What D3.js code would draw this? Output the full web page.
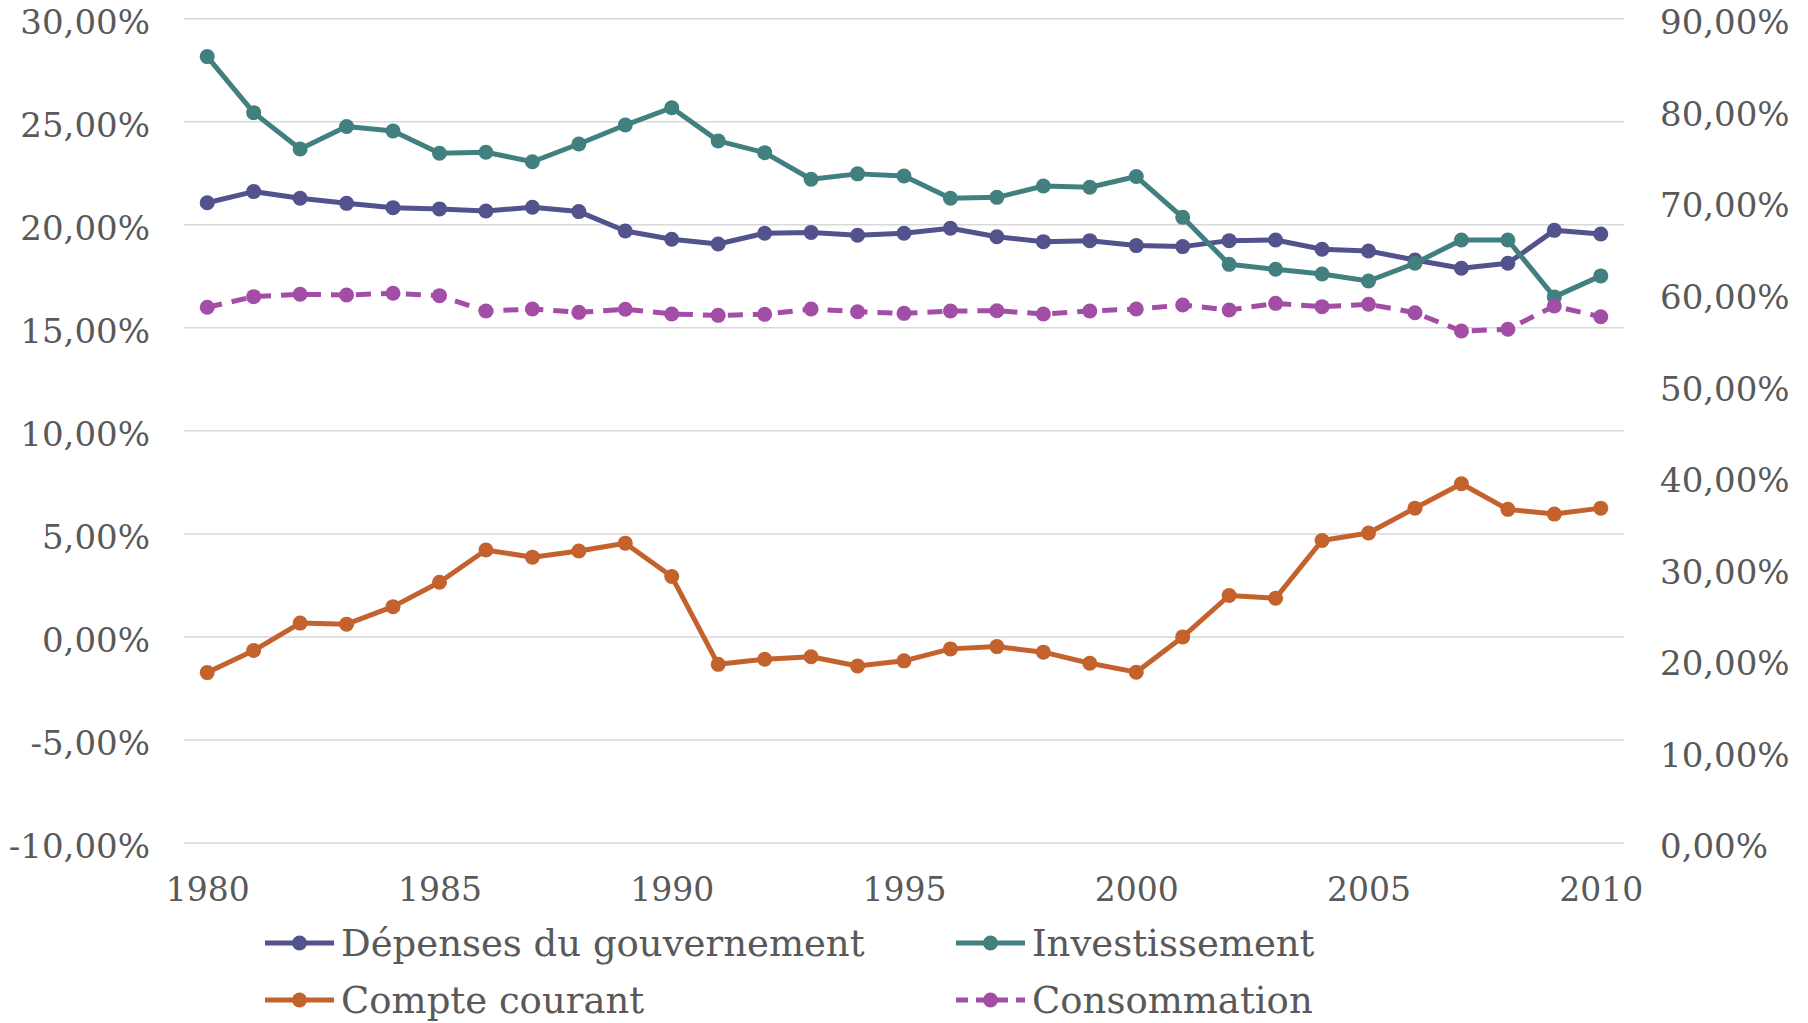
<!DOCTYPE html>
<html lang="fr">
<head>
<meta charset="UTF-8">
<title>Dépenses, investissement, compte courant, consommation</title>
<script src="https://d3js.org/d3.v7.min.js"></script>
<style>
    body { margin: 0; background: #fff; }
    svg { display: block; }
    text { font-family: "DejaVu Serif", Georgia, serif; fill: #595959; }
</style>
</head>
<body>
<svg width="1808" height="1023"></svg>
<script>
// annees 1980..2010
const years = d3.range(1980, 2011);
const yearTicks = [1980, 1985, 1990, 1995, 2000, 2005, 2010];

// axe gauche (en %)
const depenses = [21.07, 21.61, 21.29, 21.04, 20.83, 20.77, 20.67, 20.85, 20.64, 19.70,
    19.30, 19.07, 19.59, 19.63, 19.49, 19.59, 19.83, 19.42, 19.18, 19.23,
    18.99, 18.94, 19.23, 19.26, 18.81, 18.73, 18.29, 17.89, 18.13, 19.73, 19.55];
const investissement = [28.16, 25.44, 23.68, 24.77, 24.55, 23.47, 23.52, 23.06, 23.92, 24.84,
    25.68, 24.07, 23.50, 22.21, 22.47, 22.37, 21.29, 21.33, 21.88, 21.82,
    22.34, 20.36, 18.08, 17.84, 17.61, 17.27, 18.13, 19.26, 19.26, 16.50, 17.52];
const compteCourant = [-1.73, -0.66, 0.67, 0.62, 1.47, 2.65, 4.22, 3.87, 4.17, 4.55,
    2.93, -1.33, -1.08, -0.96, -1.41, -1.16, -0.58, -0.47, -0.74, -1.28,
    -1.71, 0.0, 2.01, 1.88, 4.68, 5.04, 6.25, 7.43, 6.19, 5.96, 6.25];
// axe droit (en %)
const consommation = [58.49, 59.65, 59.91, 59.83, 60.02, 59.76, 58.08, 58.30, 57.94, 58.27,
    57.76, 57.61, 57.72, 58.30, 58.01, 57.83, 58.08, 58.12, 57.76, 58.08,
    58.30, 58.74, 58.19, 58.92, 58.56, 58.82, 57.90, 55.90, 56.09, 58.63, 57.46];

const leftTicks = [-10, -5, 0, 5, 10, 15, 20, 25, 30];
const rightTicks = [0, 10, 20, 30, 40, 50, 60, 70, 80, 90];

const series = [
    { name: "Dépenses du gouvernement", values: depenses, color: "#52528c", axis: "left", dash: null },
    { name: "Investissement", values: investissement, color: "#41807f", axis: "left", dash: null },
    { name: "Compte courant", values: compteCourant, color: "#c4622d", axis: "left", dash: null },
    { name: "Consommation", values: consommation, color: "#a24ea6", axis: "right", dash: "15,10" }
];

const svg = d3.select("svg");
const plot = { left: 184, right: 1624, top: 18.7, bottom: 843 };

const x = d3.scalePoint().domain(years).range([plot.left, plot.right]).padding(0.5);
const yL = d3.scaleLinear().domain([-10, 30]).range([plot.bottom, plot.top]);
const yR = d3.scaleLinear().domain([0, 90]).range([plot.bottom, plot.top]);

// format francais, tiret simple pour le signe
const fmt = v => (v < 0 ? "-" : "") + d3.format(".2f")(Math.abs(v)).replace(".", ",") + "%";

// grille
svg.append("g")
    .selectAll("line")
    .data(leftTicks)
    .enter().append("line")
    .attr("x1", plot.left).attr("x2", plot.right)
    .attr("y1", d => yL(d)).attr("y2", d => yL(d))
    .attr("stroke", "#d9d9d9").attr("stroke-width", 1.5);

// axes
const axisL = svg.append("g")
    .attr("transform", `translate(${plot.left - 34},0)`)
    .call(d3.axisLeft(yL).tickValues(leftTicks).tickFormat(fmt).tickSize(0).tickPadding(0));
const axisR = svg.append("g")
    .attr("transform", `translate(${plot.right + 36},0)`)
    .call(d3.axisRight(yR).tickValues(rightTicks).tickFormat(fmt).tickSize(0).tickPadding(0));
const axisX = svg.append("g")
    .attr("transform", `translate(0,${plot.bottom + 46})`)
    .call(d3.axisBottom(x).tickValues(yearTicks).tickSize(0).tickPadding(0));

[axisL, axisR].forEach(a => {
    a.select(".domain").remove();
    a.selectAll("text").attr("font-size", 34).attr("fill", "#595959").attr("dy", "0.44em")
        .style("font-family", '"DejaVu Serif", Georgia, serif');
});
axisX.select(".domain").remove();
axisX.selectAll("text").attr("font-size", 33).attr("fill", "#595959").attr("dy", "0.35em")
    .style("font-family", '"DejaVu Serif", Georgia, serif');

// courbes
series.forEach(s => {
    const y = s.axis === "left" ? yL : yR;
    const line = d3.line().x((d, i) => x(years[i])).y(d => y(d));
    const g = svg.append("g");
    g.append("path")
        .attr("d", line(s.values))
        .attr("fill", "none")
        .attr("stroke", s.color)
        .attr("stroke-width", 5)
        .attr("stroke-linejoin", "round")
        .attr("stroke-dasharray", s.dash);
    g.selectAll("circle")
        .data(s.values)
        .enter().append("circle")
        .attr("cx", (d, i) => x(years[i]))
        .attr("cy", d => y(d))
        .attr("r", 7.5)
        .attr("fill", s.color);
});

// legende
const legendPos = [
    { x: 265, y: 943 }, { x: 956, y: 943 },
    { x: 265, y: 1000 }, { x: 956, y: 1000 }
];
series.forEach((s, i) => {
    const p = legendPos[i];
    const g = svg.append("g").attr("transform", `translate(${p.x},${p.y})`);
    g.append("line")
        .attr("x1", 0).attr("x2", 69)
        .attr("stroke", s.color).attr("stroke-width", 5)
        .attr("stroke-dasharray", s.dash ? "12,8" : null);
    g.append("circle").attr("cx", 34.5).attr("r", 7.5).attr("fill", s.color);
    g.append("text")
        .attr("x", 76).attr("dy", "0.35em")
        .attr("font-size", 37)
        .text(s.name);
});
</script>
</body>
</html>
